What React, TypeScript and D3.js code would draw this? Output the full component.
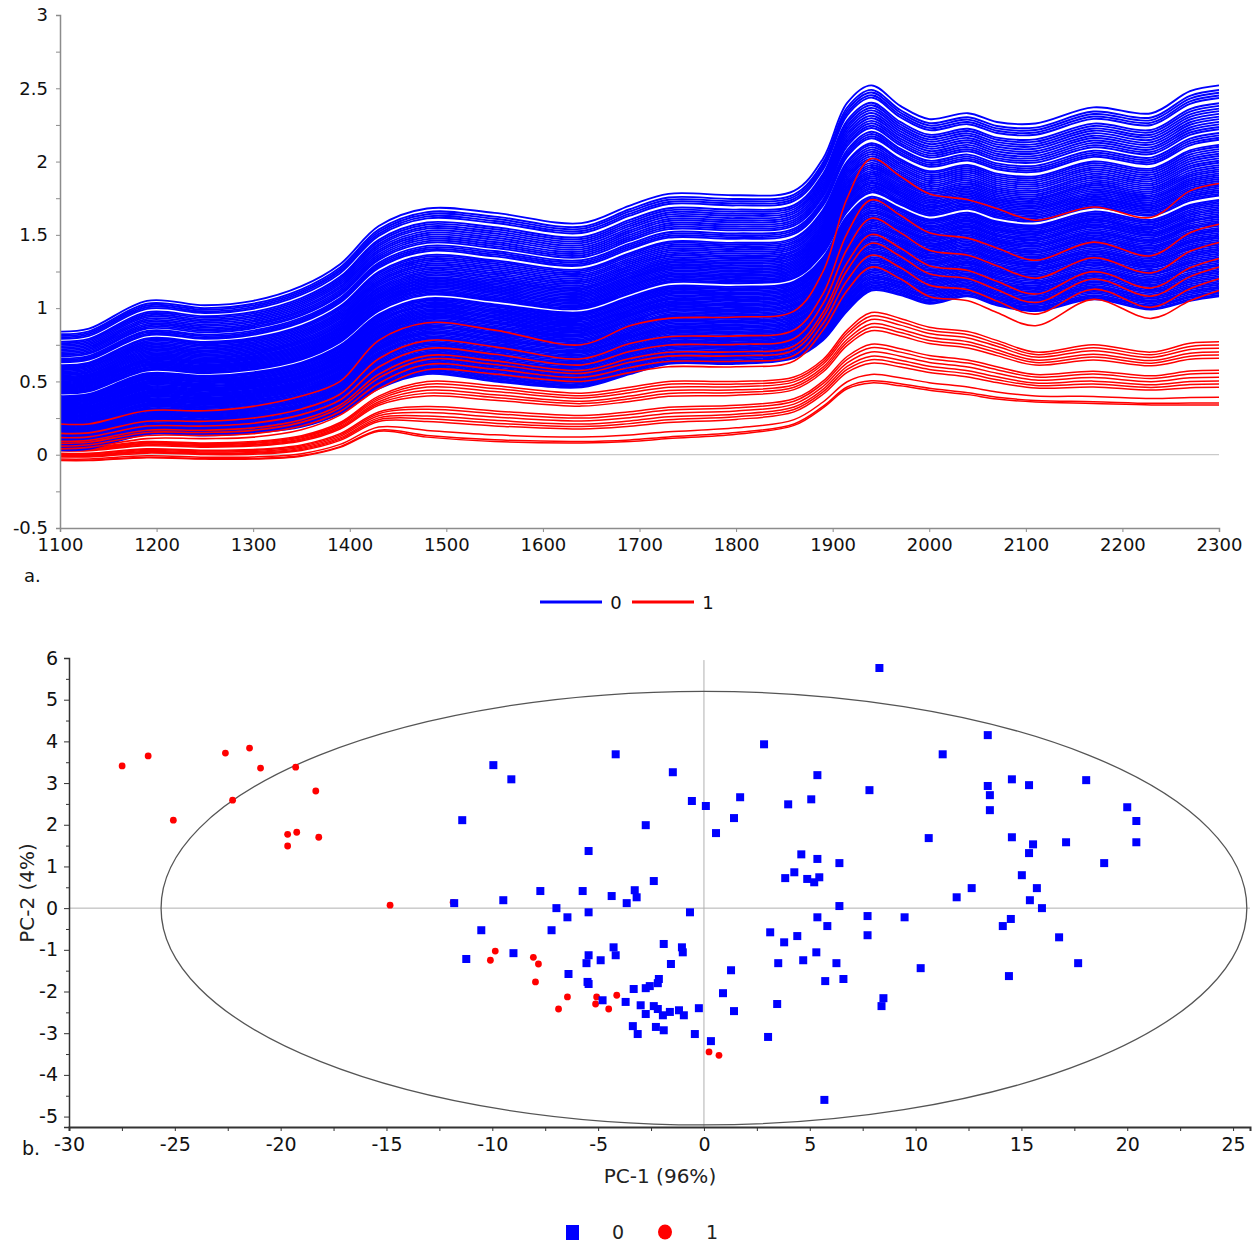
import { useEffect, useRef } from 'react';
import * as d3 from 'd3';

const WIDTH = 1256;
const HEIGHT = 1245;
const FONT = '"DejaVu Sans", Verdana, sans-serif';

// Panel a: NIR spectra. Envelope profiles read at these wavelengths (nm)
const WAVELENGTHS = [1100, 1130, 1190, 1250, 1300, 1350, 1390, 1430, 1480, 1550, 1640, 1690, 1730, 1800, 1860, 1890, 1915, 1940, 1970, 2000, 2040, 2070, 2110, 2170, 2230, 2270, 2300];

const BLUE_TOP = [0.84, 0.86, 1.05, 1.02, 1.05, 1.15, 1.30, 1.56, 1.68, 1.65, 1.58, 1.70, 1.78, 1.77, 1.80, 2.02, 2.40, 2.52, 2.38, 2.29, 2.33, 2.27, 2.26, 2.37, 2.33, 2.48, 2.52];
const BLUE_BOTTOM = [0.03, 0.04, 0.14, 0.13, 0.15, 0.19, 0.28, 0.45, 0.55, 0.50, 0.46, 0.55, 0.62, 0.62, 0.66, 0.78, 0.98, 1.12, 1.09, 1.03, 1.08, 1.02, 0.98, 1.06, 0.99, 1.05, 1.08];
const RED_UPPER_TOP = [0.21, 0.21, 0.30, 0.30, 0.33, 0.40, 0.50, 0.78, 0.90, 0.85, 0.75, 0.88, 0.93, 0.94, 0.98, 1.25, 1.75, 2.02, 1.90, 1.78, 1.74, 1.68, 1.60, 1.69, 1.62, 1.80, 1.85];
const RED_UPPER_BOTTOM = [0.04, 0.05, 0.11, 0.11, 0.12, 0.17, 0.27, 0.45, 0.58, 0.55, 0.50, 0.56, 0.60, 0.60, 0.64, 0.85, 1.12, 1.28, 1.20, 1.08, 1.05, 0.97, 0.88, 1.06, 0.93, 1.05, 1.12];
const RED_LOWER_TOP = [0.05, 0.05, 0.09, 0.08, 0.09, 0.13, 0.22, 0.40, 0.50, 0.47, 0.42, 0.46, 0.50, 0.50, 0.53, 0.65, 0.85, 0.97, 0.93, 0.87, 0.84, 0.78, 0.70, 0.75, 0.70, 0.76, 0.77];
const RED_LOWER_BOTTOM = [-0.04, -0.04, -0.02, -0.03, -0.03, -0.01, 0.05, 0.16, 0.12, 0.09, 0.08, 0.09, 0.11, 0.14, 0.20, 0.32, 0.45, 0.49, 0.47, 0.44, 0.41, 0.38, 0.36, 0.35, 0.34, 0.34, 0.34];

// position of each sample between its group's bottom (0) and top (1) envelope
const BLUE_LEVELS = [
  0.000, 0.007, 0.015, 0.022, 0.031, 0.039, 0.046, 0.055, 0.063, 0.070,
  0.079, 0.088, 0.095, 0.103, 0.112, 0.120, 0.127, 0.136, 0.145, 0.152,
  0.160, 0.169, 0.178, 0.185, 0.193, 0.202, 0.211, 0.218, 0.226, 0.235,
  0.244, 0.251, 0.259, 0.268, 0.277, 0.284, 0.292, 0.301, 0.310, 0.317,
  0.325, 0.334, 0.343, 0.350, 0.358, 0.367, 0.376, 0.383, 0.391, 0.400,
  0.409, 0.416, 0.424, 0.433, 0.442, 0.449, 0.457, 0.478, 0.486, 0.495,
  0.503, 0.512, 0.521, 0.529, 0.538, 0.547, 0.556, 0.565, 0.574, 0.583,
  0.593, 0.602, 0.612, 0.622, 0.633, 0.643, 0.654, 0.665, 0.676, 0.687,
  0.698, 0.709, 0.718, 0.742, 0.752, 0.763, 0.774, 0.792, 0.803, 0.815,
  0.827, 0.840, 0.852, 0.865, 0.878, 0.890, 0.903, 0.915, 0.940, 0.952,
  0.965, 0.978, 1.000,
];
const RED_UPPER_LEVELS = [0, 0.11, 0.22, 0.30, 0.45, 0.62, 1.0];
const RED_LOWER_LEVELS = [0, 0.03, 0.12, 0.28, 0.33, 0.38, 0.44, 0.50, 0.55, 0.74, 0.79, 0.84, 0.90, 0.95, 1.0];

const SPECTRA_X_TICKS = [1100, 1200, 1300, 1400, 1500, 1600, 1700, 1800, 1900, 2000, 2100, 2200, 2300];
const SPECTRA_Y_TICKS = [-0.5, 0, 0.5, 1, 1.5, 2, 2.5, 3];

// Panel b: PCA scores [PC-1, PC-2]
const SCORES_0 = [
  [-4.17, 3.69], [-9.95, 3.43], [-9.10, 3.09], [2.84, 3.93], [-1.47, 3.26], [-11.42, 2.11],
  [-0.57, 2.57], [0.09, 2.45], [1.71, 2.66], [1.42, 2.16], [-2.75, 1.99], [0.57, 1.80],
  [-5.45, 1.37], [3.98, 2.49], [5.07, 2.61], [5.36, 3.19], [4.60, 1.29], [4.27, 0.86],
  [3.84, 0.72], [4.88, 0.70], [5.21, 0.62], [5.45, 0.74], [5.36, 1.18], [-7.73, 0.41],
  [-9.48, 0.19], [-11.80, 0.12], [-5.73, 0.41], [-4.36, 0.29], [-3.65, 0.12], [-3.27, 0.43],
  [-3.18, 0.26], [-2.37, 0.65], [-6.97, 0.0], [-6.45, -0.22], [-5.45, -0.10], [-0.66, -0.10],
  [-10.52, -0.53], [-7.20, -0.53], [-11.23, -1.22], [-9.00, -1.08], [-5.45, -1.13], [-5.55, -1.32],
  [-4.88, -1.25], [-4.27, -0.94], [-4.17, -1.13], [-1.90, -0.86], [-1.04, -0.94], [-1.00, -1.06],
  [-1.56, -1.34], [-6.40, -1.58], [-5.50, -1.77], [-5.45, -1.82], [-4.79, -2.21], [-3.70, -2.25],
  [-3.32, -1.94], [-2.75, -1.92], [-2.56, -1.87], [-2.18, -1.80], [-2.13, -1.70], [-2.99, -2.33],
  [-2.75, -2.54], [-2.37, -2.35], [-2.18, -2.42], [-1.94, -2.57], [-1.61, -2.49], [-1.18, -2.45],
  [-0.95, -2.57], [-0.24, -2.40], [-3.36, -2.83], [-3.13, -3.02], [-2.27, -2.85], [-1.90, -2.93],
  [-0.43, -3.02], [0.33, -3.19], [1.28, -1.49], [0.90, -2.04], [1.42, -2.47], [3.13, -0.58],
  [3.79, -0.82], [4.41, -0.67], [5.36, -0.22], [3.51, -1.32], [4.69, -1.25], [5.31, -1.06],
  [3.46, -2.30], [3.03, -3.09], [8.29, 5.76], [13.41, 4.15], [11.28, 3.69], [7.82, 2.83],
  [13.41, 2.93], [14.55, 3.09], [15.36, 2.95], [18.06, 3.07], [13.51, 2.71], [13.51, 2.35],
  [20.0, 2.42], [20.43, 2.09], [20.43, 1.58], [10.62, 1.68], [14.55, 1.70], [15.55, 1.53],
  [15.36, 1.32], [17.11, 1.58], [18.91, 1.08], [6.40, 1.08], [15.02, 0.79], [12.65, 0.48],
  [11.94, 0.26], [15.73, 0.48], [15.40, 0.19], [15.97, 0.0], [6.40, 0.05], [5.83, -0.43],
  [7.73, -0.19], [9.48, -0.22], [7.73, -0.65], [14.50, -0.26], [14.12, -0.43], [16.78, -0.70],
  [6.26, -1.32], [10.24, -1.44], [17.68, -1.32], [14.41, -1.63], [5.73, -1.75], [6.59, -1.70],
  [8.48, -2.16], [8.39, -2.35], [5.69, -4.60],
];
const SCORES_1 = [
  [-27.49, 3.41], [-26.26, 3.65], [-25.07, 2.11], [-22.61, 3.72], [-21.47, 3.84], [-20.95, 3.36],
  [-22.27, 2.59], [-19.29, 3.38], [-18.34, 2.81], [-19.67, 1.77], [-19.24, 1.82], [-19.67, 1.49],
  [-18.20, 1.70], [-14.83, 0.07], [-11.85, 0.14], [-9.86, -1.03], [-10.09, -1.25], [-8.06, -1.18],
  [-7.82, -1.34], [-7.96, -1.77], [-6.45, -2.13], [-6.87, -2.42], [-5.07, -2.13], [-5.12, -2.30],
  [-4.50, -2.42], [-4.12, -2.09], [0.24, -3.45], [0.71, -3.53],
];
const SCORES_X_TICKS = [-30, -25, -20, -15, -10, -5, 0, 5, 10, 15, 20, 25];
const SCORES_Y_TICKS = [-5, -4, -3, -2, -1, 0, 1, 2, 3, 4, 5, 6];
const ELLIPSE_RADII = [25.65, 5.2];

const BLUE = '#0000ff';
const RED = '#ff0000';

function styleAxis(g, color, width) {
  g.select('.domain').attr('stroke', color).attr('stroke-width', width);
  g.selectAll('.tick line').attr('stroke', color);
  g.selectAll('.tick text').attr('fill', '#111').attr('font-family', FONT);
}

function drawSpectra(svg) {
  const x = d3.scaleLinear().domain([1100, 2300]).range([60, 1219]);
  const y = d3.scaleLinear().domain([-0.5, 3]).range([528, 15]);
  const g = svg.append('g');

  g.append('line')
    .attr('x1', x(1100)).attr('x2', x(2300))
    .attr('y1', y(0)).attr('y2', y(0))
    .attr('stroke', '#bdbdbd').attr('stroke-width', 1);

  const line = d3.line()
    .x((d) => x(d[0]))
    .y((d) => y(d[1]))
    .curve(d3.curveCatmullRom.alpha(0.5));

  const build = (lo, hi, t) => WAVELENGTHS.map((w, i) => [w, lo[i] + t * (hi[i] - lo[i])]);

  const groups = [
    { levels: RED_LOWER_LEVELS, lo: RED_LOWER_BOTTOM, hi: RED_LOWER_TOP, color: RED, width: 1.5 },
    { levels: BLUE_LEVELS, lo: BLUE_BOTTOM, hi: BLUE_TOP, color: BLUE, width: 1.9 },
    { levels: RED_UPPER_LEVELS, lo: RED_UPPER_BOTTOM, hi: RED_UPPER_TOP, color: RED, width: 1.6 },
  ];
  groups.forEach((grp) => {
    g.append('g')
      .selectAll('path')
      .data(grp.levels.map((t) => build(grp.lo, grp.hi, t)))
      .join('path')
      .attr('d', line)
      .attr('fill', 'none')
      .attr('stroke', grp.color)
      .attr('stroke-width', grp.width);
  });

  // Axes
  g.append('g')
    .attr('transform', `translate(${x(1100)},0)`)
    .call(d3.axisLeft(y).tickValues(SPECTRA_Y_TICKS).tickSize(4).tickPadding(8).tickFormat((d) => String(d)))
    .call((a) => styleAxis(a, '#8c8c8c', 1.5))
    .call((a) => a.selectAll('.tick text').attr('font-size', 18));
  g.append('g')
    .attr('transform', `translate(${x(1100)},0)`)
    .call(d3.axisLeft(y).tickValues(SPECTRA_Y_TICKS.slice(0, -1).map((v) => v + 0.25)).tickSize(4).tickFormat(() => ''))
    .call((a) => a.select('.domain').remove())
    .call((a) => a.selectAll('.tick line').attr('stroke', '#8c8c8c'));
  g.append('g')
    .attr('transform', `translate(0,${y(-0.5)})`)
    .call(d3.axisBottom(x).tickValues(SPECTRA_X_TICKS).tickSize(4).tickPadding(6).tickFormat((d) => String(d)))
    .call((a) => styleAxis(a, '#8c8c8c', 1.5))
    .call((a) => a.selectAll('.tick text').attr('font-size', 18));

  g.append('text')
    .attr('x', 24).attr('y', 582)
    .attr('font-family', FONT).attr('font-size', 18).attr('fill', '#111')
    .text('a.');

  // Legend
  const legend = [
    { label: '0', color: BLUE, x: 540 },
    { label: '1', color: RED, x: 632 },
  ];
  legend.forEach((d) => {
    g.append('line')
      .attr('x1', d.x).attr('x2', d.x + 62)
      .attr('y1', 602).attr('y2', 602)
      .attr('stroke', d.color).attr('stroke-width', 3);
    g.append('text')
      .attr('x', d.x + 76).attr('y', 609)
      .attr('text-anchor', 'middle')
      .attr('font-family', FONT).attr('font-size', 18).attr('fill', '#111')
      .text(d.label);
  });
}

function drawScores(svg) {
  const x = d3.scaleLinear().domain([-30, 25.8]).range([69, 1250]);
  const y = d3.scaleLinear().domain([-5.25, 6]).range([1127, 658]);
  const g = svg.append('g');

  g.append('line')
    .attr('x1', x(-30)).attr('x2', x(25.8))
    .attr('y1', y(0)).attr('y2', y(0))
    .attr('stroke', '#b0b0b0').attr('stroke-width', 1);
  g.append('line')
    .attr('x1', x(0)).attr('x2', x(0))
    .attr('y1', y(5.95)).attr('y2', y(-5.25))
    .attr('stroke', '#b0b0b0').attr('stroke-width', 1);

  g.append('ellipse')
    .attr('cx', x(0)).attr('cy', y(0))
    .attr('rx', x(ELLIPSE_RADII[0]) - x(0))
    .attr('ry', y(0) - y(ELLIPSE_RADII[1]))
    .attr('fill', 'none').attr('stroke', '#555').attr('stroke-width', 1.3);

  g.append('g')
    .selectAll('circle')
    .data(SCORES_1)
    .join('circle')
    .attr('cx', (d) => x(d[0]))
    .attr('cy', (d) => y(d[1]))
    .attr('r', 3.4)
    .attr('fill', RED);

  const sq = 8;
  g.append('g')
    .selectAll('rect')
    .data(SCORES_0)
    .join('rect')
    .attr('x', (d) => x(d[0]) - sq / 2)
    .attr('y', (d) => y(d[1]) - sq / 2)
    .attr('width', sq).attr('height', sq)
    .attr('fill', BLUE);

  // Axes
  g.append('g')
    .attr('transform', `translate(${x(-30)},0)`)
    .call(d3.axisLeft(y).tickValues(SCORES_Y_TICKS).tickSize(5).tickPadding(6).tickFormat((d) => String(d)))
    .call((a) => styleAxis(a, '#333', 1.5))
    .call((a) => a.selectAll('.tick text').attr('font-size', 19));
  g.append('g')
    .attr('transform', `translate(${x(-30)},0)`)
    .call(d3.axisLeft(y).tickValues(SCORES_Y_TICKS.slice(0, -1).map((v) => v + 0.5)).tickSize(3).tickFormat(() => ''))
    .call((a) => a.select('.domain').remove())
    .call((a) => a.selectAll('.tick line').attr('stroke', '#333'));
  g.append('g')
    .attr('transform', `translate(0,${y(-5.25)})`)
    .call(d3.axisBottom(x).tickValues(SCORES_X_TICKS).tickSize(4).tickPadding(7).tickFormat((d) => String(d)))
    .call((a) => styleAxis(a, '#333', 2))
    .call((a) => a.selectAll('.tick text').attr('font-size', 19));
  g.append('g')
    .attr('transform', `translate(0,${y(-5.25)})`)
    .call(d3.axisBottom(x).tickValues(SCORES_X_TICKS.map((v) => v + 2.5)).tickSize(4).tickFormat(() => ''))
    .call((a) => a.select('.domain').remove())
    .call((a) => a.selectAll('.tick line').attr('stroke', '#333'));

  g.append('text')
    .attr('x', 22).attr('y', 1155)
    .attr('font-family', FONT).attr('font-size', 19).attr('fill', '#111')
    .text('b.');

  g.append('text')
    .attr('x', 660).attr('y', 1183)
    .attr('text-anchor', 'middle')
    .attr('font-family', FONT).attr('font-size', 20).attr('fill', '#222')
    .text('PC-1 (96%)');
  g.append('text')
    .attr('transform', `translate(34,${893}) rotate(-90)`)
    .attr('text-anchor', 'middle')
    .attr('font-family', FONT).attr('font-size', 20).attr('fill', '#222')
    .text('PC-2 (4%)');

  // Legend
  g.append('rect')
    .attr('x', 566).attr('y', 1225).attr('width', 13).attr('height', 15)
    .attr('fill', BLUE);
  g.append('text')
    .attr('x', 618).attr('y', 1239)
    .attr('text-anchor', 'middle')
    .attr('font-family', FONT).attr('font-size', 19).attr('fill', '#222')
    .text('0');
  g.append('ellipse')
    .attr('cx', 665).attr('cy', 1232).attr('rx', 7).attr('ry', 7.5)
    .attr('fill', RED);
  g.append('text')
    .attr('x', 712).attr('y', 1239)
    .attr('text-anchor', 'middle')
    .attr('font-family', FONT).attr('font-size', 19).attr('fill', '#222')
    .text('1');
}

export default function App() {
  const svgRef = useRef(null);

  useEffect(() => {
    if (!svgRef.current) return;
    const svg = d3.select(svgRef.current);
    svg.selectAll('*').remove();
    drawSpectra(svg);
    drawScores(svg);
  }, []);

  return (
    <svg
      ref={svgRef}
      width={WIDTH}
      height={HEIGHT}
      style={{ position: 'absolute', left: 0, top: 0, background: '#fff', display: 'block' }}
    />
  );
}
